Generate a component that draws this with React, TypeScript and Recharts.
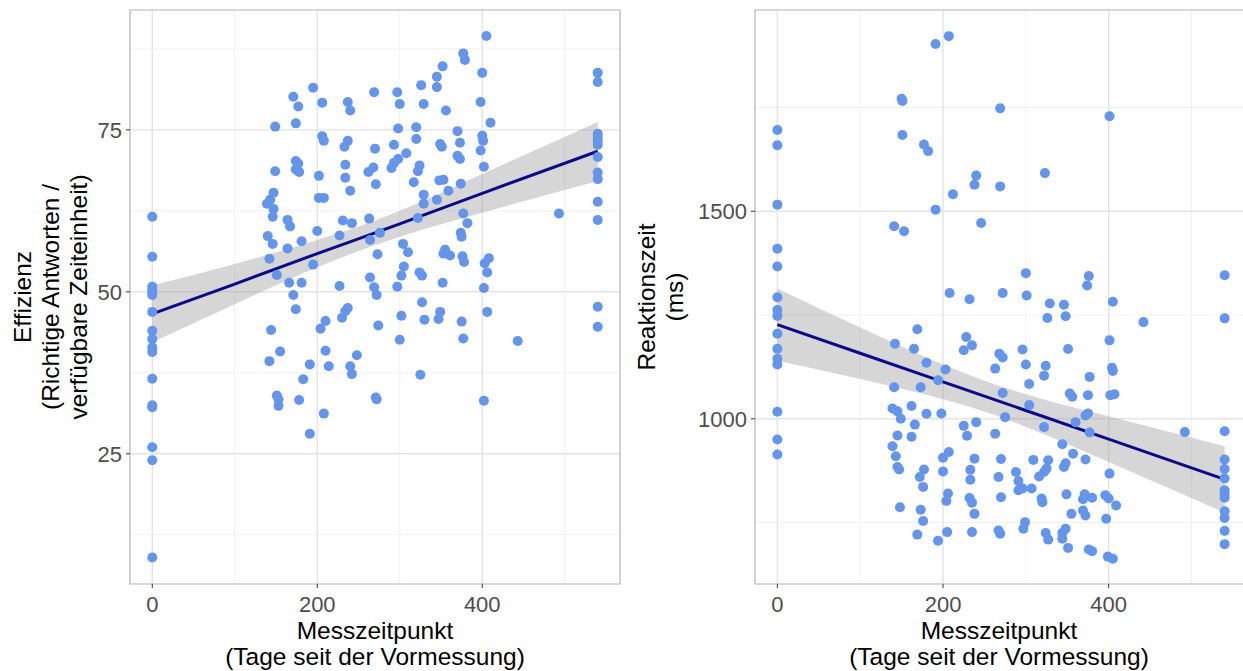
import React from "react";
import {
  ComposedChart,
  Scatter,
  Line,
  Area,
  XAxis,
  YAxis,
  CartesianGrid,
  ReferenceArea,
} from "recharts";

const FONT = '"Liberation Sans", Arial, sans-serif';
const POINT = "#6495ED";
const FIT = "#0a0a8a";

const dayTicks = [0, 200, 400];
const dayMinor = [100, 300, 500];
const dayDomain: [number, number] = [-27, 567];

// ---- Effizienz ----
const effTicks = [25, 50, 75];
const effMinor = [12.5, 37.5, 62.5, 87.5];
const effDomain: [number, number] = [4.9, 93.5];

// Vormessung (Tag 0)
const effDay0 = [61.6, 55.4, 50.8, 50.3, 49.8, 49.5, 46.9, 44.0, 42.7, 41.4, 40.7, 36.6, 32.5, 32.2, 26.0, 24.0, 9.0];
// letzte Messung (Tag 540)
const effDay540 = [83.8, 82.4, 74.4, 73.8, 73.3, 72.7, 70.8, 68.4, 67.4, 63.9, 61.1, 47.7, 44.6];
// dazwischen: [Tag, Effizienz]
const effMiddle: [number, number][] = [
  [195, 81.5], [171, 80.1], [177, 78.6], [206, 79.2], [237, 79.3], [240, 78.0], [269, 80.8], [149, 75.5],
  [174, 76.0], [206, 74.0], [208, 73.3], [237, 73.3], [233, 72.4], [270, 72.1], [174, 70.2], [177, 69.8],
  [174, 68.9], [178, 68.5], [149, 68.6], [202, 67.9], [234, 69.6], [234, 67.6], [240, 65.6], [262, 68.5],
  [268, 69.2], [271, 66.6], [147, 65.3], [143, 64.2], [139, 63.6], [147, 62.8], [146, 61.6], [202, 64.5],
  [208, 64.5], [164, 61.1], [167, 60.1], [231, 61.0], [242, 60.6], [263, 61.3], [140, 58.6], [146, 57.4],
  [164, 56.7], [181, 57.8], [200, 59.4], [227, 58.7], [264, 58.0], [273, 55.8], [142, 55.1], [151, 52.6],
  [195, 54.2], [166, 51.4], [181, 51.4], [227, 50.9], [264, 52.2], [269, 50.7], [171, 49.5], [272, 49.5],
  [405, 89.5], [377, 86.8], [379, 85.8], [352, 84.8], [345, 83.2], [345, 81.6], [326, 81.9], [400, 83.8],
  [297, 80.8], [300, 79.0], [329, 79.0], [356, 78.0], [398, 79.3], [410, 76.1], [298, 75.2], [320, 75.4],
  [320, 73.6], [370, 74.8], [373, 73.0], [400, 74.1], [401, 73.3], [398, 71.8], [349, 72.8], [351, 72.4],
  [293, 72.7], [308, 71.4], [298, 70.5], [293, 69.9], [290, 69.1], [324, 69.5], [322, 68.6], [370, 71.0],
  [373, 70.5], [402, 69.3], [317, 66.9], [348, 67.2], [353, 67.3], [374, 66.7], [359, 65.6], [329, 65.0],
  [329, 63.6], [345, 64.2], [493, 62.1], [377, 62.1], [382, 60.6], [322, 61.4], [276, 59.1], [374, 59.1],
  [375, 58.5], [304, 57.4], [310, 56.1], [353, 55.9], [355, 56.5], [361, 55.6], [376, 55.5], [378, 54.6],
  [408, 55.2], [403, 54.4], [406, 53.0], [305, 53.9], [302, 52.5], [324, 53.0], [327, 52.5], [297, 50.8],
  [352, 51.4], [402, 50.6],
  [174, 47.3], [144, 44.1], [204, 44.3], [210, 45.5], [230, 46.0], [234, 47.0], [237, 47.5], [274, 44.8],
  [142, 39.3], [155, 40.8], [191, 38.8], [210, 40.9], [214, 38.5], [240, 38.5], [242, 37.3], [248, 40.2],
  [183, 36.5], [151, 34.0], [153, 33.4], [153, 32.4], [178, 33.3], [271, 33.7], [272, 33.4], [208, 31.2],
  [191, 28.1],
  [327, 48.4], [302, 46.3], [300, 42.6], [330, 45.7], [347, 45.8], [349, 46.9], [375, 45.4], [377, 42.8],
  [406, 46.9], [443, 42.4], [325, 37.2], [402, 33.2],
];

// ---- Reaktionszeit ----
const rtTicks = [1000, 1500];
const rtMinor = [750, 1250, 1750];
const rtDomain: [number, number] = [602, 1985];

const rtDay0 = [1696, 1659, 1516, 1410, 1367, 1293, 1262, 1248, 1205, 1169, 1145, 1131, 1017, 950, 914];
const rtDay540 = [1346, 1242, 970, 902, 879, 856, 828, 818, 810, 777, 761, 730, 698];
const rtMiddle: [number, number][] = [
  [191, 1903], [207, 1922], [150, 1771], [151, 1766], [269, 1748], [151, 1684], [177, 1661], [182, 1645],
  [240, 1586], [238, 1564], [269, 1560], [212, 1541], [191, 1504], [246, 1472], [141, 1464], [153, 1452],
  [208, 1303], [232, 1288], [272, 1303],
  [401, 1729], [323, 1592], [300, 1351], [376, 1344], [374, 1321], [301, 1297],
  [329, 1278], [346, 1275], [405, 1282], [326, 1243], [348, 1247], [442, 1233], [401, 1189], [296, 1167],
  [351, 1168], [268, 1157], [272, 1148], [263, 1121], [300, 1131], [324, 1128], [322, 1104], [377, 1101],
  [404, 1123], [405, 1115], [304, 1084], [353, 1061], [356, 1053], [375, 1057], [402, 1057], [407, 1059],
  [272, 1062], [304, 1033], [275, 1004], [322, 980], [360, 992], [372, 1008], [375, 1013], [377, 967],
  [263, 964], [344, 939], [357, 916], [270, 903], [309, 901], [327, 900], [372, 902], [348, 893],
  [346, 884], [288, 872], [325, 880], [322, 872], [316, 861], [401, 868], [267, 860], [291, 850],
  [291, 828], [296, 832], [307, 832], [270, 811], [319, 808], [320, 799], [349, 818], [371, 818],
  [369, 806], [380, 810], [396, 816], [400, 808], [409, 791], [355, 771], [369, 779], [372, 767],
  [397, 759], [267, 731], [269, 723], [299, 751], [297, 735], [324, 725], [327, 709], [344, 725],
  [348, 735], [344, 711], [351, 689], [376, 685], [380, 681], [399, 668], [405, 663],
  [169, 1216], [142, 1181], [165, 1169], [228, 1197], [235, 1177], [225, 1165], [180, 1135], [203, 1119],
  [194, 1093], [173, 1076], [141, 1076], [139, 1025], [145, 1018], [149, 1000], [162, 1031], [180, 1012],
  [198, 1013], [166, 986], [145, 960], [162, 957], [225, 983], [240, 992], [229, 959], [139, 934],
  [143, 910], [145, 884], [147, 878], [200, 906], [207, 920], [238, 904], [177, 878], [172, 860],
  [176, 836], [200, 873], [233, 877], [233, 853], [206, 820], [204, 802], [232, 809], [235, 798],
  [238, 771], [148, 787], [173, 781], [176, 754], [169, 721], [194, 706], [205, 727], [235, 727],
  [492, 968],
];

// lineare Regression + 95%-Band
const fitDays = [0, 100, 200, 270, 300, 400, 540];
const effFit = [46.6, 51.2, 55.9, 59.1, 60.5, 65.2, 71.7];
const effLow = [42.2, 48.1, 53.8, 57.2, 58.5, 62.2, 67.1];
const effHigh = [51.0, 54.3, 58.0, 61.0, 62.5, 68.2, 76.2];
const rtFit = [1227, 1158, 1089, 1041, 1020, 951, 854];
const rtLow = [1140, 1096, 1047, 1004, 981, 896, 774];
const rtHigh = [1314, 1220, 1131, 1078, 1059, 1006, 934];

function buildPoints(day0: number[], day540: number[], middle: [number, number][]) {
  return [
    ...day0.map((v) => ({ x: 0, y: v })),
    ...middle.map(([d, v]) => ({ x: d, y: v })),
    ...day540.map((v) => ({ x: 540, y: v })),
  ];
}

function buildFit(fit: number[], low: number[], high: number[]) {
  return fitDays.map((d, i) => ({ x: d, y: fit[i], band: [low[i], high[i]] }));
}

const Dot = (props: any) => <circle cx={props.cx} cy={props.cy} r={5} fill={POINT} />;

interface PanelProps {
  width: number;
  yWidth: number;
  points: { x: number; y: number }[];
  fit: { x: number; y: number; band: number[] }[];
  yDomain: [number, number];
  yTicks: number[];
  yMinor: number[];
}

function Panel({ width, yWidth, points, fit, yDomain, yTicks, yMinor }: PanelProps) {
  const tick = { fill: "#4d4d4d", fontSize: 22, fontFamily: FONT };
  return (
    <ComposedChart width={width} height={671} data={fit} margin={{ top: 10, right: 3, left: 0, bottom: 57 }}>
      <CartesianGrid stroke="#f1f1f1" strokeWidth={1} horizontalValues={yMinor} verticalValues={dayMinor} />
      <CartesianGrid stroke="#e4e4e4" strokeWidth={1.4} horizontalValues={yTicks} verticalValues={dayTicks} />
      <XAxis
        type="number"
        dataKey="x"
        domain={dayDomain}
        ticks={dayTicks}
        allowDataOverflow
        axisLine={false}
        tickLine={{ stroke: "#333333" }}
        tickSize={4}
        tickMargin={8}
        tick={tick}
        height={30}
      />
      <YAxis
        type="number"
        dataKey="y"
        domain={yDomain}
        ticks={yTicks}
        allowDataOverflow
        axisLine={false}
        tickLine={{ stroke: "#333333" }}
        tickSize={4}
        tickMargin={4}
        tick={tick}
        width={yWidth}
      />
      <ReferenceArea
        x1={dayDomain[0]}
        x2={dayDomain[1]}
        y1={yDomain[0]}
        y2={yDomain[1]}
        fill="none"
        stroke="#b3b3b3"
        strokeWidth={1.2}
        ifOverflow="visible"
      />
      <Scatter data={points} shape={Dot} isAnimationActive={false} />
      <Area
        dataKey="band"
        type="monotone"
        stroke="none"
        fill="#999999"
        fillOpacity={0.4}
        isAnimationActive={false}
        activeDot={false}
      />
      <Line dataKey="y" type="linear" stroke={FIT} strokeWidth={3} dot={false} activeDot={false} isAnimationActive={false} />
    </ComposedChart>
  );
}

const titleStyle: React.CSSProperties = {
  position: "absolute",
  fontFamily: FONT,
  fontSize: 24.5,
  lineHeight: "26px",
  color: "#000",
  textAlign: "center",
  whiteSpace: "nowrap",
};

function VTitle({ cx, cy, lines }: { cx: number; cy: number; lines: string[] }) {
  const w = 580;
  const h = lines.length * 28;
  return (
    <div
      style={{
        ...titleStyle,
        lineHeight: "28px",
        left: cx - w / 2,
        top: cy - h / 2,
        width: w,
        height: h,
        transform: "rotate(-90deg)",
        transformOrigin: "center",
      }}
    >
      {lines.map((l) => (
        <div key={l}>{l}</div>
      ))}
    </div>
  );
}

export default function App() {
  const effPoints = buildPoints(effDay0, effDay540, effMiddle);
  const rtPoints = buildPoints(rtDay0, rtDay540, rtMiddle);
  return (
    <div
      style={{
        position: "absolute",
        left: 0,
        top: 0,
        width: 1243,
        height: 671,
        overflow: "hidden",
        background: "#fff",
      }}
    >
      <div style={{ position: "absolute", left: 0, top: 0 }}>
        <Panel
          width={623}
          yWidth={130}
          points={effPoints}
          fit={buildFit(effFit, effLow, effHigh)}
          yDomain={effDomain}
          yTicks={effTicks}
          yMinor={effMinor}
        />
      </div>
      <div style={{ position: "absolute", left: 630, top: 0 }}>
        <Panel
          width={620}
          yWidth={125}
          points={rtPoints}
          fit={buildFit(rtFit, rtLow, rtHigh)}
          yDomain={rtDomain}
          yTicks={rtTicks}
          yMinor={rtMinor}
        />
      </div>
      <div style={{ ...titleStyle, left: 130, top: 618, width: 490 }}>
        <div>Messzeitpunkt</div>
        <div>(Tage seit der Vormessung)</div>
      </div>
      <div style={{ ...titleStyle, left: 755, top: 618, width: 488 }}>
        <div>Messzeitpunkt</div>
        <div>(Tage seit der Vormessung)</div>
      </div>
      <VTitle cx={51} cy={297} lines={["Effizienz", "(Richtige Antworten /", "verfügbare Zeiteinheit)"]} />
      <VTitle cx={661} cy={297} lines={["Reaktionszeit", "(ms)"]} />
    </div>
  );
}
